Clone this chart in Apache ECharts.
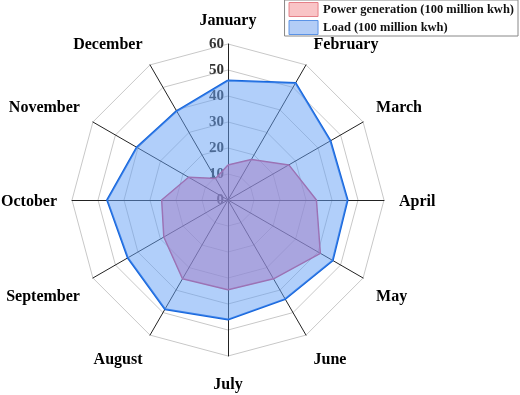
<!DOCTYPE html>
<html>
<head>
<meta charset="utf-8">
<script src="https://cdn.jsdelivr.net/npm/echarts@6/dist/echarts.min.js"></script>
<style>
  html, body { margin: 0; padding: 0; background: #fff; }
  #chart { width: 520px; height: 395px; }
</style>
</head>
<body>
<div id="chart"></div>
<script>
var months = ['January', 'February', 'March', 'April', 'May', 'June',
  'July', 'August', 'September', 'October', 'November', 'December'];
var seriesNames = ['Power generation (100 million kwh)', 'Load (100 million kwh)'];
var powerGen = [13.5, 18, 27, 34, 41, 35, 34.5, 35, 28.5, 25.5, 17.5, 9.5];
var load = [46, 52, 45.5, 46, 46.5, 44, 46, 48.5, 44.5, 46.5, 40.5, 39.5];

var font = 'Liberation Serif';

// radar goes counterclockwise, so keep January first and reverse the rest
function clockwise(arr) {
  return [arr[0]].concat(arr.slice(1).reverse());
}

// extra room between the polygon and the month names, by position
var nameStyle = { fontFamily: font, fontWeight: 'bold', fontSize: 16, color: '#000' };
function nameRich(pad) {
  return Object.assign({}, nameStyle, { padding: pad });
}
var nameSlot = {
  January: 'top', July: 'bottom',
  February: 'up', December: 'up', March: 'up', November: 'up',
  April: 'side', October: 'side',
  May: 'down', September: 'down', June: 'down2', August: 'down2'
};

var chart = echarts.init(document.getElementById('chart'));

chart.setOption({
  animation: false,
  legend: {
    orient: 'vertical',
    right: 2,
    top: 0,
    padding: [2, 4, 1, 4],
    itemGap: 3,
    itemWidth: 29,
    itemHeight: 14,
    backgroundColor: '#fff',
    borderColor: '#888',
    borderWidth: 1,
    textStyle: { fontFamily: font, fontWeight: 'bold', fontSize: 12.5, color: '#111' },
    data: [
      { name: seriesNames[0], icon: 'rect', itemStyle: { color: '#f9c4c6', borderColor: '#e58088', borderWidth: 1 } },
      { name: seriesNames[1], icon: 'rect', itemStyle: { color: '#b3cdf6', borderColor: '#5b93e6', borderWidth: 1 } }
    ]
  },
  radar: {
    center: [228, 200],
    radius: 156,
    startAngle: 90,
    shape: 'polygon',
    splitNumber: 6,
    axisName: {
      fontFamily: font, fontWeight: 'bold', fontSize: 16, color: '#000',
      formatter: function (name) {
        return '{' + nameSlot[name] + '|' + name + '}';
      },
      rich: {
        top: nameRich([0, 0, 0, 0]),
        bottom: nameRich([6, 0, 0, 0]),
        up: nameRich([0, 0, 14, 0]),
        side: nameRich([4, 0, 0, 0]),
        down: nameRich([22, 0, 0, 0]),
        down2: nameRich([24, 0, 0, 0])
      }
    },
    nameGap: 15,
    axisLine: { lineStyle: { color: '#222', width: 1 } },
    splitLine: { lineStyle: { color: '#c8c8c8', width: 1 } },
    splitArea: { show: false },
    axisLabel: { show: false, fontFamily: font, fontWeight: 'bold', fontSize: 15, color: '#333', margin: 4 },
    indicator: clockwise(months).map(function (m, i) {
      var ind = { name: m, min: 0, max: 60 };
      if (i === 0) ind.axisLabel = { show: true };
      return ind;
    })
  },
  series: [{
    type: 'radar',
    symbol: 'none',
    data: [
      {
        name: seriesNames[0],
        value: clockwise(powerGen),
        lineStyle: { color: '#d0406a', width: 1.5 },
        itemStyle: { color: '#d0406a' },
        areaStyle: { color: 'rgba(225,90,150,0.5)', opacity: 1 }
      },
      {
        name: seriesNames[1],
        value: clockwise(load),
        lineStyle: { color: '#1565dc', width: 2 },
        itemStyle: { color: '#1565dc' },
        areaStyle: { color: 'rgba(100,160,245,0.5)', opacity: 1 }
      }
    ]
  }]
});
</script>
</body>
</html>
